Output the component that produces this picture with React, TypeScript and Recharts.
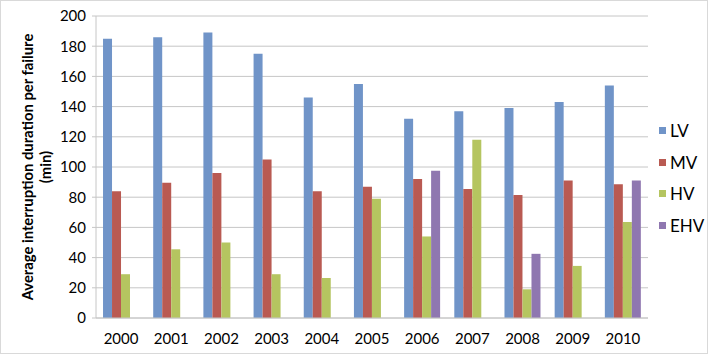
import { BarChart, Bar, XAxis, YAxis, CartesianGrid, Legend } from 'recharts'

const years = ['2000', '2001', '2002', '2003', '2004', '2005', '2006', '2007', '2008', '2009', '2010']
const lv = [185, 186, 189, 175, 146, 155, 132, 137, 139, 143, 154]
const mv = [84, 89.5, 96, 105, 84, 87, 92, 85.5, 81.5, 91, 88.5]
const hv = [29, 45.5, 50, 29, 26.5, 79, 54, 118, 19, 34.5, 63.5]
const ehv = [null, null, null, null, null, null, 97.5, null, 42.5, null, 91]
const yTicks = [0, 20, 40, 60, 80, 100, 120, 140, 160, 180, 200]
const seriesOrder = ['LV', 'MV', 'HV', 'EHV']

const data = years.map((year, i) => ({
  year,
  LV: lv[i],
  MV: mv[i],
  HV: hv[i],
  EHV: ehv[i],
}))

const FONT = 'Lato, "Open Sans", sans-serif'
const GRID = '#C6C6C6'

function AxisTitle(props: any) {
  const { viewBox } = props
  const cy = viewBox.y + viewBox.height / 2
  const x1 = viewBox.x + 26
  const x2 = viewBox.x + 44
  return (
    <g fontFamily={FONT} fontWeight={700} fontSize={14.8} fill="#000">
      <text x={x1} y={cy} textAnchor="middle" dominantBaseline="central" transform={`rotate(-90 ${x1} ${cy})`}>
        Average interruption duration per failure
      </text>
      <text x={x2} y={cy} textAnchor="middle" dominantBaseline="central" transform={`rotate(-90 ${x2} ${cy})`}>
        (min)
      </text>
    </g>
  )
}

function LegendBox(props: any) {
  const items = [...(props.payload || [])].sort(
    (a: any, b: any) => seriesOrder.indexOf(a.value) - seriesOrder.indexOf(b.value)
  )
  return (
    <div style={{ fontFamily: FONT, fontSize: 17, color: '#000' }}>
      {items.map((entry: any) => (
        <div key={entry.value} style={{ height: 31.5, display: 'flex', alignItems: 'center' }}>
          <span style={{ width: 7, height: 7, background: entry.color, marginRight: 4, display: 'inline-block' }} />
          <span>{entry.value}</span>
        </div>
      ))}
    </div>
  )
}

export default function App() {
  return (
    <div
      style={{
        position: 'absolute',
        left: 0,
        top: 0,
        width: 708,
        height: 354,
        boxSizing: 'border-box',
        border: '1px solid #D9D9D9',
        background: '#fff',
      }}
    >
      <BarChart
        width={706}
        height={352}
        data={data}
        margin={{ top: 15, right: 59, bottom: 5, left: 0 }}
        barCategoryGap="14%"
        barGap={0}
      >
        <CartesianGrid vertical={false} stroke={GRID} />
        <XAxis
          dataKey="year"
          height={30}
          stroke={GRID}
          tickLine={false}
          tickSize={6}
          tickMargin={9}
          tick={{ fill: '#000', fontSize: 15, fontFamily: FONT }}
        />
        <YAxis
          width={95}
          domain={[0, 200]}
          ticks={yTicks}
          stroke={GRID}
          tickSize={4}
          tickMargin={6}
          tick={{ fill: '#000', fontSize: 15, fontFamily: FONT }}
          label={<AxisTitle />}
        />
        <Legend
          layout="vertical"
          align="center"
          verticalAlign="middle"
          content={<LegendBox />}
          wrapperStyle={{ left: 658, top: 114, width: 48 }}
        />
        <Bar dataKey="LV" fill="#7094C8" isAnimationActive={false} />
        <Bar dataKey="MV" fill="#B95A52" isAnimationActive={false} />
        <Bar dataKey="HV" fill="#B5C560" isAnimationActive={false} />
        <Bar dataKey="EHV" fill="#8F77B0" isAnimationActive={false} />
      </BarChart>
    </div>
  )
}
